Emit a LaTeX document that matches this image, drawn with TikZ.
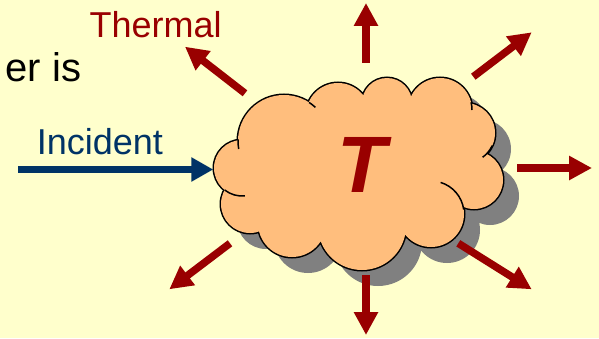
\documentclass[tikz,border=0pt]{standalone}
\usepackage{fontspec}
\setmainfont{Liberation Sans}
\usetikzlibrary{arrows.meta}
\definecolor{bg}{HTML}{FFFFCC}
\definecolor{cloudfill}{RGB}{255,190,125}
\definecolor{shadowgray}{HTML}{808080}
\definecolor{heatred}{HTML}{990000}
\definecolor{incblue}{HTML}{003366}
\newcommand\cloudrim{(242,170) circle[radius=28pt] (284,197) circle[radius=46pt] (338,223) circle[radius=32pt] (387,235) circle[radius=25pt] (440,228) circle[radius=32pt] (465,205) circle[radius=30pt] (474,158) circle[radius=29pt] (431,124) circle[radius=33pt] (362,112) circle[radius=44pt] (292,115) circle[radius=34pt] (250,134) circle[radius=29pt]}
\newcommand\cloudpath{\cloudrim (358,168) ellipse[x radius=112pt, y radius=64pt]}
\begin{document}
\begin{tikzpicture}[x=1pt,y=1pt,
  heat/.style={draw=heatred, line width=7.5pt, -{Triangle[length=23pt,width=23pt]}},
  incoming/.style={draw=incblue, line width=7.5pt, -{Triangle[length=22pt,width=23pt]}},
  label/.style={inner sep=0pt, font=\fontsize{36}{40}\selectfont},
  hook/.style={line width=1.5pt}]
\useasboundingbox (0,0) rectangle (599,338);
\fill[bg] (0,0) rectangle (599,338);
% cloud
\fill[shadowgray, shift={(16,-16)}] \cloudpath;
\draw[line width=3pt] \cloudrim;
\fill[cloudfill] \cloudpath;
\draw[hook] ([shift={(73:33pt)}]431,124) arc[start angle=73, end angle=8, radius=33pt];
\draw[hook] ([shift={(232:28pt)}]242,170) arc[start angle=232, end angle=276, radius=28pt];
\draw[hook] ([shift={(-25:30pt)}]465,205) arc[start angle=-25, end angle=-54, radius=30pt];
\draw[hook] ([shift={(178:46pt)}]284,197) arc[start angle=178, end angle=190, radius=46pt];
\draw[hook] ([shift={(57:46pt)}]284,197) arc[start angle=57, end angle=47, radius=46pt];
\draw[hook] ([shift={(14:32pt)}]440,228) arc[start angle=14, end angle=0, radius=32pt];
% texts
\node[label, anchor=base east, font=\fontsize{40}{44}\selectfont] (eris) at (81.5,256.3) {er is};
\node[label, anchor=base west, text=heatred] (thermal) at (89.5,300.7) {Thermal};
\node[label, anchor=base west, text=incblue] (incident) at (36.6,184) {Incident};
\node[inner sep=0pt, anchor=base, text=heatred, font=\fontsize{80}{90}\selectfont\bfseries\itshape] (temp) at (362,146) {T};
% arrow end points
\coordinate (n0) at (366,275);   \coordinate (n1) at (366,335);
\coordinate (ne0) at (473.3,261.3); \coordinate (ne1) at (531.7,305.7);
\coordinate (e0) at (517,170);   \coordinate (e1) at (592,170);
\coordinate (se0) at (458.3,94.7); \coordinate (se1) at (531.7,48.7);
\coordinate (s0) at (366,63);    \coordinate (s1) at (366,3);
\coordinate (sw0) at (230,94.7); \coordinate (sw1) at (169.3,48.7);
\coordinate (nw0) at (245,244.7); \coordinate (nw1) at (185,291.3);
\coordinate (in0) at (18,168.5); \coordinate (in1) at (213.3,168.5);
\draw[heat] (n0) -- (n1);
\draw[heat] (ne0) -- (ne1);
\draw[heat] (e0) -- (e1);
\draw[heat] (se0) -- (se1);
\draw[heat] (s0) -- (s1);
\draw[heat] (sw0) -- (sw1);
\draw[heat] (nw0) -- (nw1);
\draw[incoming] (in0) -- (in1);
\end{tikzpicture}
\end{document}
